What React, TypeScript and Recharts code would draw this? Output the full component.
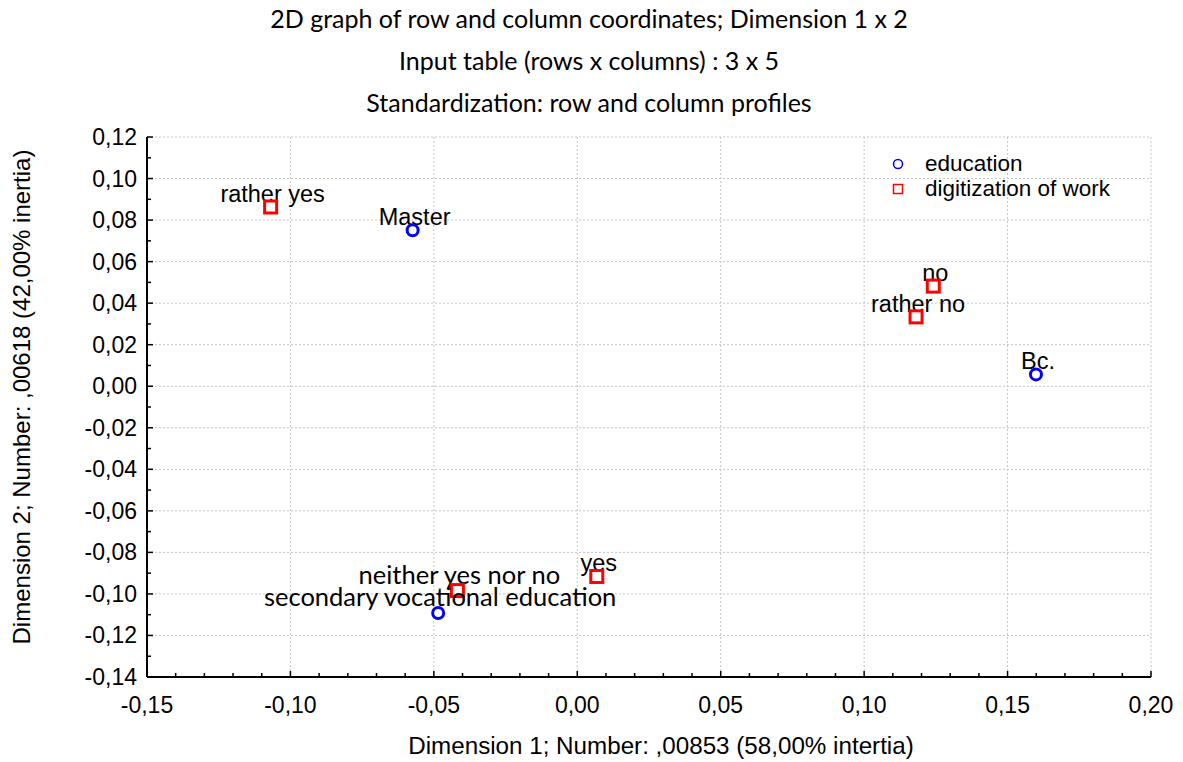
import React from "react";
import { ScatterChart, Scatter, XAxis, YAxis, CartesianGrid } from "recharts";

// tick values
const X_MAJOR = [-0.15, -0.1, -0.05, 0, 0.05, 0.1, 0.15, 0.2];
const X_MINOR = [
  -0.14, -0.13, -0.12, -0.11, -0.09, -0.08, -0.07, -0.06, -0.04, -0.03, -0.02, -0.01,
  0.01, 0.02, 0.03, 0.04, 0.06, 0.07, 0.08, 0.09, 0.11, 0.12, 0.13, 0.14, 0.16, 0.17, 0.18, 0.19,
];
const Y_MAJOR = [-0.14, -0.12, -0.1, -0.08, -0.06, -0.04, -0.02, 0, 0.02, 0.04, 0.06, 0.08, 0.1, 0.12];
const Y_MINOR = [-0.13, -0.11, -0.09, -0.07, -0.05, -0.03, -0.01, 0.01, 0.03, 0.05, 0.07, 0.09, 0.11];

// row points (education)
const EDU_NAMES = ["Master", "secondary vocational education", "Bc."];
const EDU_X = [-0.0574, -0.0485, 0.1599];
const EDU_Y = [0.0751, -0.1092, 0.0057];

// column points (digitization of work)
const DIG_NAMES = ["rather yes", "neither yes nor no", "yes", "no", "rather no"];
const DIG_X = [-0.1069, -0.0418, 0.0068, 0.1241, 0.1181];
const DIG_Y = [0.0863, -0.0984, -0.0916, 0.0482, 0.0334];

const TITLES = [
  "2D graph of row and column coordinates; Dimension 1 x 2",
  "Input table (rows x columns) : 3 x 5",
  "Standardization: row and column profiles",
];
const X_TITLE = "Dimension 1; Number: ,00853 (58,00% intertia)";
const Y_TITLE = "Dimension 2; Number: ,00618 (42,00% inertia)";

const eduData = EDU_NAMES.map((name, i) => ({ name, x: EDU_X[i], y: EDU_Y[i] }));
const digData = DIG_NAMES.map((name, i) => ({ name, x: DIG_X[i], y: DIG_Y[i] }));

const xTicks = [...X_MAJOR, ...X_MINOR].sort((a, b) => a - b);
const yTicks = [...Y_MAJOR, ...Y_MINOR].sort((a, b) => a - b);

const ARIAL = '"Liberation Sans", Arial, sans-serif';
const CALIBRI = 'Lato, "Open Sans", sans-serif';
// these two labels are set in the title font in the original
const CALIBRI_LABELS = new Set(["secondary vocational education", "neither yes nor no"]);

const isMajor = (v: number, list: number[]) => list.some((m) => Math.abs(m - v) < 1e-9);
const fmt = (v: number) => v.toFixed(2).replace(".", ",");

function BottomTick({ x, y, payload }: any) {
  const major = isMajor(payload.value, X_MAJOR);
  return (
    <g>
      <line x1={x} x2={x} y1={y} y2={y - (major ? 6 : 4)} stroke="#000" strokeWidth={1.5} />
      {major && (
        <text x={x} y={y + 36} textAnchor="middle" fontSize={23} fill="#000" fontFamily={ARIAL}>
          {fmt(payload.value)}
        </text>
      )}
    </g>
  );
}

function TopTick({ x, y, payload }: any) {
  const major = isMajor(payload.value, X_MAJOR);
  return <line x1={x} x2={x} y1={y} y2={y + (major ? 6 : 4)} stroke="#000" strokeWidth={1.5} />;
}

function LeftTick({ x, y, payload }: any) {
  const major = isMajor(payload.value, Y_MAJOR);
  return (
    <g>
      <line x1={x} x2={x + (major ? 6 : 4)} y1={y} y2={y} stroke="#000" strokeWidth={1.5} />
      {major && (
        <text x={x - 10} y={y + 8} textAnchor="end" fontSize={23} fill="#000" fontFamily={ARIAL}>
          {fmt(payload.value)}
        </text>
      )}
    </g>
  );
}

function RightTick({ x, y, payload }: any) {
  const major = isMajor(payload.value, Y_MAJOR);
  return <line x1={x} x2={x - (major ? 6 : 4)} y1={y} y2={y} stroke="#000" strokeWidth={1.5} />;
}

function PointLabel({ cx, cy, name }: { cx: number; cy: number; name: string }) {
  const alt = CALIBRI_LABELS.has(name);
  return (
    <text
      x={cx + 2}
      y={cy - (alt ? 7 : 5)}
      textAnchor="middle"
      fontSize={alt ? 25.5 : 23.5}
      fontFamily={alt ? CALIBRI : ARIAL}
      fill="#000"
    >
      {name}
    </text>
  );
}

const circleShape = (p: any) => (
  <g>
    <PointLabel cx={p.cx} cy={p.cy} name={p.payload.name} />
    <circle cx={p.cx} cy={p.cy} r={5.5} fill="#fff" stroke="#0000ff" strokeWidth={3} />
  </g>
);

const squareShape = (p: any) => (
  <g>
    <PointLabel cx={p.cx} cy={p.cy} name={p.payload.name} />
    <rect x={p.cx - 6} y={p.cy - 6} width={12} height={12} fill="#fff" stroke="#ff0000" strokeWidth={3} />
  </g>
);

const abs = (left: number, top: number, extra: React.CSSProperties = {}): React.CSSProperties => ({
  position: "absolute",
  left,
  top,
  whiteSpace: "nowrap",
  transform: "translate(-50%, -50%)",
  color: "#000",
  ...extra,
});

export default function App() {
  return (
    <div style={{ position: "absolute", left: 0, top: 0, width: 1183, height: 762, background: "#fff" }}>
      <ScatterChart
        width={1183}
        height={762}
        margin={{ top: 137, right: 32, left: 0, bottom: 0 }}
        style={{ fontFamily: ARIAL }}
      >
        <CartesianGrid
          xAxisId="bottom"
          yAxisId="left"
          verticalValues={X_MAJOR}
          horizontalValues={Y_MAJOR}
          stroke="#c4c4c4"
          strokeDasharray="2 2"
        />
        <XAxis
          xAxisId="bottom"
          dataKey="x"
          type="number"
          domain={[-0.15, 0.2]}
          ticks={xTicks}
          interval={0}
          height={85}
          tickSize={0}
          tickMargin={0}
          tick={<BottomTick />}
          axisLine={{ stroke: "#000", strokeWidth: 2 }}
        />
        <XAxis
          xAxisId="top"
          orientation="top"
          dataKey="x"
          type="number"
          domain={[-0.15, 0.2]}
          ticks={xTicks}
          interval={0}
          height={0}
          tickSize={0}
          tickMargin={0}
          tick={<TopTick />}
          axisLine={{ stroke: "#000", strokeWidth: 2 }}
        />
        <YAxis
          yAxisId="left"
          dataKey="y"
          type="number"
          domain={[-0.14, 0.12]}
          ticks={yTicks}
          interval={0}
          width={147}
          tickSize={0}
          tickMargin={0}
          tick={<LeftTick />}
          axisLine={{ stroke: "#000", strokeWidth: 2 }}
        />
        <YAxis
          yAxisId="right"
          orientation="right"
          dataKey="y"
          type="number"
          domain={[-0.14, 0.12]}
          ticks={yTicks}
          interval={0}
          width={0}
          tickSize={0}
          tickMargin={0}
          tick={<RightTick />}
          axisLine={{ stroke: "#000", strokeWidth: 2 }}
        />
        <Scatter
          name="digitization of work"
          data={digData}
          xAxisId="bottom"
          yAxisId="left"
          shape={squareShape}
          isAnimationActive={false}
        />
        <Scatter
          name="education"
          data={eduData}
          xAxisId="bottom"
          yAxisId="left"
          shape={circleShape}
          isAnimationActive={false}
        />
      </ScatterChart>

      {TITLES.map((t, i) => (
        <div key={t} style={abs(589, 18 + i * 42, { fontFamily: CALIBRI, fontSize: 25 })}>
          {t}
        </div>
      ))}
      <div style={abs(661, 746, { fontFamily: ARIAL, fontSize: 24.2 })}>{X_TITLE}</div>
      <div style={abs(22, 397, { fontFamily: ARIAL, fontSize: 24, transform: "translate(-50%, -50%) rotate(-90deg)" })}>
        {Y_TITLE}
      </div>

      {/* legend */}
      <div style={{ position: "absolute", left: 892, top: 151, fontFamily: ARIAL, fontSize: 22.5, lineHeight: "25px" }}>
        <div style={{ display: "flex", alignItems: "center" }}>
          <svg width={12} height={12} style={{ marginRight: 21 }}>
            <circle cx={6} cy={6} r={4.5} fill="#fff" stroke="#0000ff" strokeWidth={1.5} />
          </svg>
          education
        </div>
        <div style={{ display: "flex", alignItems: "center" }}>
          <svg width={12} height={12} style={{ marginRight: 21 }}>
            <rect x={1.5} y={1.5} width={9} height={9} fill="#fff" stroke="#ff0000" strokeWidth={1.5} />
          </svg>
          digitization of work
        </div>
      </div>
    </div>
  );
}
